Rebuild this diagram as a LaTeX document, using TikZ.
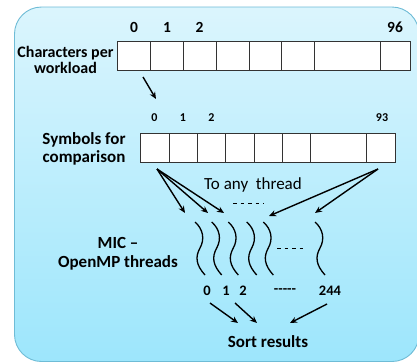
\documentclass[tikz,border=0pt]{standalone}
\usepackage{fontspec}
\setmainfont{Carlito}
\usetikzlibrary{arrows.meta}
\definecolor{bgtop}{HTML}{DBF5FD}
\definecolor{bgbot}{HTML}{9DE6FC}
\definecolor{bgedge}{HTML}{6FBCD6}
\tikzset{
  lbl/.style={font=\bfseries\fontsize{16}{16.5}\selectfont, align=center, inner sep=0pt},
  lblb/.style={font=\bfseries\fontsize{17}{18.5}\selectfont, align=center, inner sep=0pt},
  idxa/.style={font=\bfseries\fontsize{15.5}{16}\selectfont, inner sep=0pt},
  idxb/.style={font=\bfseries\fontsize{12}{13}\selectfont, inner sep=0pt},
  idxc/.style={font=\bfseries\fontsize{14.5}{15}\selectfont, inner sep=0pt},
  cell/.style={draw=black!80, fill=white, line width=0.8pt},
  arr/.style={line width=1.4pt, -{Stealth[length=7pt,width=6pt]}},
  thr/.style={line width=1.3pt},
  dsh/.style={line width=0.9pt, dash pattern=on 3.5pt off 4pt},
}
\begin{document}
\begin{tikzpicture}[x=1pt,y=-1pt]
\useasboundingbox (0,0) rectangle (417,362);
% background panel
\draw[bgedge, line width=0.9pt, rounded corners=27pt, top color=bgtop, bottom color=bgbot]
  (14.5,7) rectangle (419,361.5);

% array 1
\foreach \a/\b in {117.7/150.7,150.7/183.3,183.3/216,216/249,249/281.7,281.7/314.3,314.3/380,380/410}
  \draw[cell] (\a,41.7) rectangle (\b,70);
\coordinate (a0) at (143,77);
\node[lbl] (chars) at (65.5,60) {Characters per\\workload};
\node[idxa] (t0) at (134,27) {0};
\node[idxa] (t1) at (167,27) {1};
\node[idxa] (t2) at (199.5,27) {2};
\node[idxa] (t96) at (395,27) {96};

% array 2
\foreach \a/\b in {140/169,169/197.3,197.3/225.7,225.7/254,254/282.3,282.3/310.7,310.7/366.7,366.7/395}
  \draw[cell] (\a,133) rectangle (\b,162);
\node[lblb] (syms) at (84,149) {Symbols for\\comparison};
\node[idxb] (u0) at (154.5,117.5) {0};
\node[idxb] (u1) at (183,117.5) {1};
\node[idxb] (u2) at (211.5,117.5) {2};
\node[idxb] (u93) at (382,117.5) {93};
\coordinate (b1) at (156,99);
\draw[arr] (a0) -- (b1);

% dispatch arrows
\coordinate (s0) at (157,169);
\coordinate (s93) at (378,169);
\coordinate (d1) at (185,213);
\coordinate (d2) at (208,213);
\coordinate (d3) at (224,213);
\coordinate (d5) at (269,216);
\coordinate (d6) at (315,213);
\draw[arr] (s0) -- (d1);
\draw[arr] (s0) -- (d2);
\draw[arr] (s0) -- (d3);
\draw[arr] (s93) -- (d5);
\draw[arr] (s93) -- (d6);
\node[font=\fontsize{17}{18}\selectfont, inner sep=0pt] (any) at (253,185) {To any\ \ thread};
\draw[dsh] (233,203) -- (264,203);

% threads
\foreach \x in {195,211.7,228.3,246.7,263.3,315}
  \draw[thr] (\x,222) .. controls (\x+8,229) and (\x+10,239) .. (\x+5,248)
                      .. controls (\x,257) and (\x+1,265) .. (\x+10,275);
\draw[dsh] (277,248) -- (305,248);
\node[lblb] (mic) at (118,254) {MIC –\\OpenMP threads};

% thread indices
\node[idxc] (v0) at (207,291) {0};
\node[idxc] (v1) at (226,291) {1};
\node[idxc] (v2) at (243,291) {2};
\node[idxc] (vd) at (285,291) {-{}-{}-{}-{}-};
\node[idxc] (v244) at (330,291) {244};

% collect arrows
\coordinate (c0) at (210,303);
\coordinate (c1) at (235,303);
\coordinate (c2) at (327,304);
\node[lblb] (sort) at (268,342) {Sort results};
\coordinate (e0) at (238,323);
\coordinate (e1) at (257,323);
\coordinate (e2) at (290,323);
\draw[arr] (c0) -- (e0);
\draw[arr] (c1) -- (e1);
\draw[arr] (c2) -- (e2);
\end{tikzpicture}
\end{document}
